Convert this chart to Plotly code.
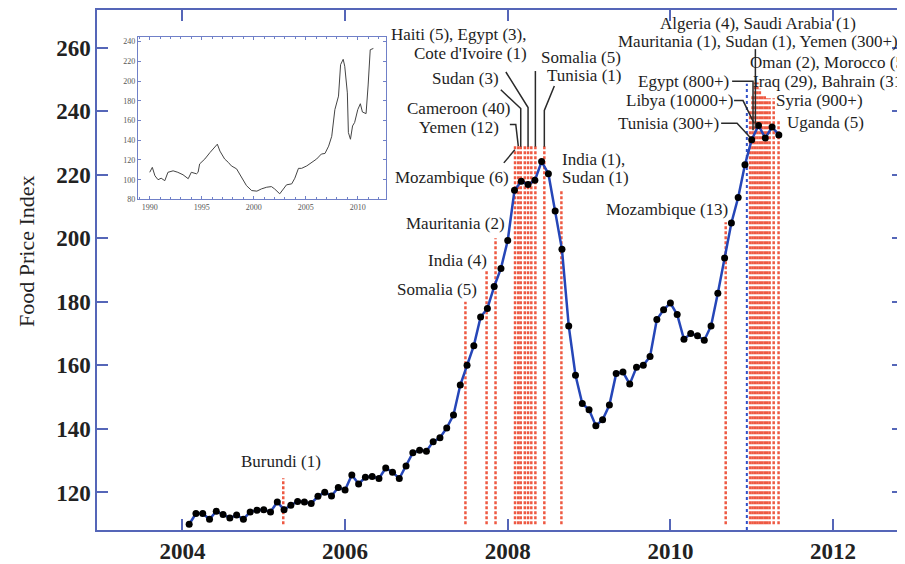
import plotly.graph_objects as go

# ---------------- data ----------------
months = (["2004-%02d" % m for m in range(2, 13)]
          + ["%d-%02d" % (y, m) for y in range(2005, 2011) for m in range(1, 13)]
          + ["2011-%02d" % m for m in range(1, 6)])
food_index = [
    110.0, 113.4, 113.4, 111.6, 114.1, 113.1, 112.0, 112.9, 111.6, 113.9, 114.4,
    114.6, 113.9, 117.0, 114.6, 116.0, 117.2, 117.0, 116.5, 118.8, 120.1, 118.9, 121.6,
    120.8, 125.5, 122.7, 124.8, 125.0, 124.4, 127.7, 126.4, 124.4, 128.3, 132.5, 133.3,
    133.0, 136.0, 137.2, 140.3, 144.4, 153.8, 160.0, 166.2, 175.2, 177.9, 184.8, 190.5,
    199.3, 215.1, 217.9, 216.9, 218.2, 224.1, 220.3, 208.6, 196.5, 172.4, 156.9, 148.0,
    146.0, 141.0, 142.9, 147.5, 157.4, 157.9, 154.1, 159.4, 160.0, 162.8, 174.4, 177.5,
    179.6, 176.0, 168.2, 170.0, 169.3, 167.9, 172.4, 182.7, 193.8, 204.8, 212.8, 223.1,
    231.0, 235.5, 231.5, 235.0, 232.5,
]

# riot events (decimal year) and the top of their dotted markers
event_dates = [2005.24, 2007.48, 2007.74, 2007.85,
               2008.09, 2008.13, 2008.16, 2008.21, 2008.25, 2008.29, 2008.34, 2008.45,
               2008.66, 2010.68,
               2010.98, 2011.01, 2011.04, 2011.07, 2011.10, 2011.13, 2011.16, 2011.19,
               2011.22, 2011.27, 2011.33]
event_tops = [124.5, 180, 190, 200,
              229, 229, 229, 229, 229, 229, 229, 229,
              215, 205,
              240, 245, 249, 249, 247, 245, 245, 244, 244, 244, 237]
event_base = 110
report_date = 2010.94
report_top = 248.6

x_ticks = [2004, 2006, 2008, 2010, 2012]
y_ticks = [120, 140, 160, 180, 200, 220, 240, 260]

# inset: long-run index 1990-2011
inset_years = [1990.0, 1990.25, 1990.5, 1990.8, 1991.1, 1991.45, 1991.75, 1992.25, 1992.7,
               1993.2, 1993.7, 1994.0, 1994.5, 1994.65, 1994.8, 1995.3, 1995.8, 1996.25,
               1996.5, 1996.75, 1997.2, 1997.55, 1997.85, 1998.35, 1998.8, 1999.3, 1999.8,
               2000.3, 2000.75, 2001.25, 2001.7, 2002.0, 2002.5, 2002.85, 2003.15, 2003.65,
               2003.95, 2004.3, 2004.6, 2005.1, 2005.55, 2006.05, 2006.5, 2006.85, 2007.2,
               2007.5, 2007.8, 2008.15, 2008.35, 2008.6, 2008.75, 2009.0, 2009.1, 2009.3,
               2009.5, 2009.7, 2010.0, 2010.25, 2010.45, 2010.8, 2011.0, 2011.2, 2011.5]
inset_values = [107.5, 112.5, 104.0, 100.0, 101.5, 99.0, 107.5, 109.0, 107.5,
                105.0, 101.0, 107.5, 106.0, 107.5, 116.0, 121.0, 127.6, 132.7,
                136.0, 129.0, 121.0, 117.6, 114.0, 111.0, 102.5, 94.0, 89.0,
                88.4, 90.7, 92.4, 93.0, 90.7, 85.7, 90.7, 94.8, 95.8,
                101.5, 111.5, 111.5, 114.0, 117.6, 121.0, 126.0, 126.6, 134.0,
                144.0, 171.0, 184.7, 216.6, 222.0, 215.0, 188.0, 147.8, 141.0,
                154.5, 158.0, 171.0, 177.0, 168.6, 167.0, 196.0, 231.7, 233.0]
inset_x_ticks = [1990, 1995, 2000, 2005, 2010]
inset_y_ticks = [80, 100, 120, 140, 160, 180, 200, 220, 240]

# ---------------- figure ----------------
def month_pos(s):
    y, m = s.split("-")
    return int(y) + (int(m) - 1) / 12.0

mx = [month_pos(s) for s in months]

SERIF = "Liberation Serif"
AXIS_BLUE = "#5566b8"
INSET_BLUE = "#7080c8"

fig = go.Figure()

ev_x, ev_y = [], []
for d, t in zip(event_dates, event_tops):
    ev_x += [d, d, None]
    ev_y += [event_base, t, None]
fig.add_trace(go.Scatter(x=ev_x, y=ev_y, mode="lines",
                         line=dict(color="rgba(234,52,24,0.82)", width=2.5, dash="3px,2px"),
                         hoverinfo="skip", showlegend=False))

fig.add_trace(go.Scatter(x=[report_date, report_date], y=[108.2, report_top], mode="lines",
                         line=dict(color="#3050c8", width=2, dash="3px,3px"),
                         hoverinfo="skip", showlegend=False))

fig.add_trace(go.Scatter(x=mx, y=food_index, mode="lines+markers",
                         line=dict(color="#2546b8", width=2.5),
                         marker=dict(color="black", size=7),
                         showlegend=False))

fig.add_trace(go.Scatter(x=inset_years, y=inset_values, mode="lines",
                         line=dict(color="#444444", width=1),
                         xaxis="x2", yaxis="y2", showlegend=False))

# leader lines (data coordinates)
leaders = [
    [(2007.952, 223.7), (2008.087, 227.8)],
    [(2008.026, 235.8), (2008.099, 235.8), (2008.13, 229.0)],
    [(2007.915, 246.7), (2008.16, 240.8), (2008.16, 228.8)],
    [(2007.977, 252.3), (2008.25, 241.1), (2008.25, 228.8)],
    [(2008.34, 252.6), (2008.34, 228.8)],
    [(2008.573, 247.9), (2008.45, 240.2), (2008.45, 228.8)],
    [(2010.759, 249.35), (2011.016, 249.35), (2011.016, 234.0)],
    [(2010.783, 243.3), (2010.893, 243.3), (2011.028, 236.2)],
    [(2010.624, 236.15), (2010.82, 236.15), (2010.979, 231.8)],
    [(2011.045, 259.5), (2011.045, 234.6)],
]
for pts in leaders:
    path = "M " + " L ".join("%f,%f" % p for p in pts)
    fig.add_shape(type="path", path=path, xref="x", yref="y",
                  line=dict(color="#2a2a2a", width=1.5))

labels = [
    ("Burundi (1)", 2005.207, 129.6, "center"),
    ("Somalia (5)", 2007.634, 184.0, "right"),
    ("India (4)", 2007.757, 193.0, "right"),
    ("Mauritania (2)", 2007.978, 204.5, "right"),
    ("Mozambique (6)", 2008.026, 219.1, "right"),
    ("Cameroon (40)", 2007.389, 240.8, "center"),
    ("Yemen (12)", 2007.40, 234.9, "center"),
    ("Haiti (5), Egypt (3),", 2008.248, 264.1, "right"),
    ("Cote d'Ivoire (1)", 2008.248, 258.2, "right"),
    ("Sudan (3)", 2007.903, 250.1, "right"),
    ("Somalia (5)", 2008.392, 257.0, "left"),
    ("Tunisia (1)", 2008.466, 251.1, "left"),
    ("India (1),", 2008.650, 224.7, "left"),
    ("Sudan (1)", 2008.650, 219.1, "left"),
    ("Mozambique (13)", 2010.722, 209.1, "right"),
    ("Algeria (4), Saudi Arabia (1)", 2011.077, 267.4, "center"),
    ("Mauritania (1), Sudan (1), Yemen (300+),", 2009.349, 261.75, "left"),
    ("Oman (2), Morocco (5)", 2010.967, 255.25, "left"),
    ("Iraq (29), Bahrain (31)", 2011.004, 249.35, "left"),
    ("Egypt (800+)", 2010.734, 249.35, "right"),
    ("Libya (10000+)", 2010.783, 243.3, "right"),
    ("Syria (900+)", 2011.286, 243.3, "left"),
    ("Tunisia (300+)", 2010.612, 236.15, "right"),
    ("Uganda (5)", 2011.421, 236.5, "left"),
]
for text, xv, yv, anc in labels:
    fig.add_annotation(x=xv, y=yv, xref="x", yref="y", text=text, showarrow=False,
                       xanchor=anc, yanchor="middle", borderpad=0,
                       font=dict(family=SERIF, size=17, color="#1e1e1e"))

fig.add_annotation(x=-0.0866, y=0.537, xref="paper", yref="paper", text="Food Price Index",
                   showarrow=False, textangle=-90, xanchor="center", yanchor="middle",
                   font=dict(family=SERIF, size=22, color="#222"))

tick_font = dict(family=SERIF, size=23, color="#222", weight="bold")

# the page body adds an 8px offset: size the figure so the plot lands where the reference has it
fig.update_layout(
    width=897, height=556,
    margin=dict(l=89, r=0, t=0, b=29),
    paper_bgcolor="white", plot_bgcolor="white",
    showlegend=False,
    xaxis=dict(range=[2002.95, 2012.86], tickvals=x_ticks, ticktext=[str(v) for v in x_ticks],
               showgrid=False, zeroline=False, showline=True, linecolor=AXIS_BLUE, linewidth=1.5,
               mirror="ticks", ticks="inside", ticklen=11, tickwidth=1.5, tickcolor=AXIS_BLUE,
               tickfont=tick_font),
    yaxis=dict(range=[108.2, 271.8], tickvals=y_ticks, ticktext=[str(v) for v in y_ticks],
               showgrid=False, zeroline=False, showline=True, linecolor=AXIS_BLUE, linewidth=1.5,
               mirror="ticks", ticks="inside", ticklen=11, tickwidth=1.5, tickcolor=AXIS_BLUE,
               tickfont=tick_font),
    xaxis2=dict(domain=[0.0507, 0.359], anchor="y2", range=[1988.86, 2012.75],
                tickvals=inset_x_ticks, ticktext=[str(v) for v in inset_x_ticks],
                showgrid=False, zeroline=False, showline=True, linecolor=INSET_BLUE, linewidth=1,
                mirror="allticks", ticks="inside", ticklen=3, tickcolor=INSET_BLUE,
                minor=dict(dtick=1, tick0=1990, ticks="inside", ticklen=2, tickcolor=INSET_BLUE),
                tickfont=dict(family=SERIF, size=8, color="#555")),
    yaxis2=dict(domain=[0.6357, 0.9488], anchor="x2", range=[80, 245],
                tickvals=inset_y_ticks, ticktext=[str(v) for v in inset_y_ticks],
                showgrid=False, zeroline=False, showline=True, linecolor=INSET_BLUE, linewidth=1,
                mirror="allticks", ticks="inside", ticklen=3, tickcolor=INSET_BLUE,
                tickfont=dict(family=SERIF, size=8, color="#555")),
)

fig.write_html("out.html")
